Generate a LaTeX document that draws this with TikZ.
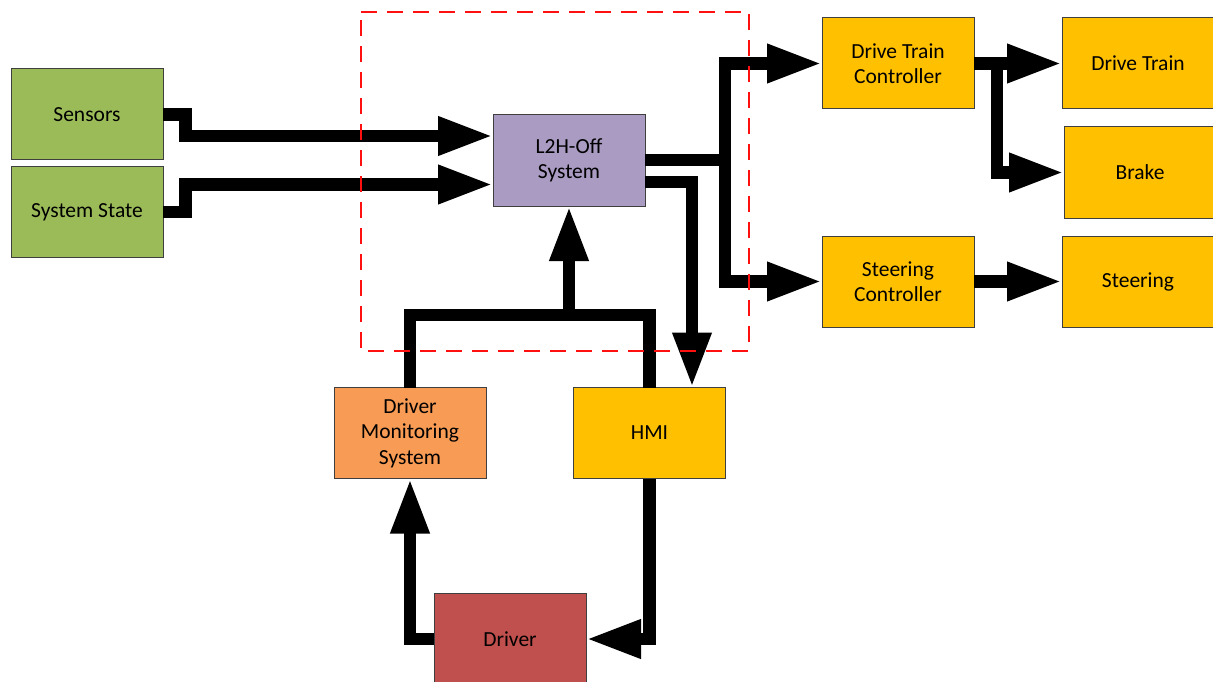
\documentclass[tikz,border=0pt]{standalone}
\usepackage{fontspec}
\setmainfont{Carlito}
\usetikzlibrary{arrows.meta}

\definecolor{boxgreen}{HTML}{9BBB59}
\definecolor{boxpurple}{HTML}{A99BC2}
\definecolor{boxorange}{HTML}{F79B55}
\definecolor{boxyellow}{HTML}{FFC000}
\definecolor{boxred}{HTML}{C0504D}
\definecolor{boxedge}{HTML}{3F3F3F}
\definecolor{zonered}{HTML}{FF1010}

\tikzset{
  block/.style={draw=boxedge, line width=1pt, rectangle, minimum width=152pt,
    minimum height=91pt, inner sep=0pt, outer sep=0pt, align=center,
    font=\fontsize{21.5}{25.5}\selectfont},
  flow/.style={line width=12.5pt, line join=miter, line cap=butt},
  flowarrow/.style={flow, -{Triangle[length=55pt,width=36pt]}},
  zone/.style={draw=zonered, line width=2.3pt, dash pattern=on 16pt off 10pt}
}

\begin{document}
\begin{tikzpicture}[x=1pt, y=-1pt]
  \useasboundingbox (0,0) rectangle (1213,682);

  % blocks
  \node[block, fill=boxgreen]  (sens)  at (87,114.5)   {Sensors};
  \node[block, fill=boxgreen]  (sst)   at (87,212)     {System State};
  \node[block, fill=boxpurple] (l2h)   at (569,160.5)  {L2H-Off\\System};
  \node[block, fill=boxyellow] (dtc)   at (898,63.5)   {Drive Train\\Controller};
  \node[block, fill=boxyellow] (dt)    at (1138,63.5)  {Drive Train};
  \node[block, fill=boxyellow] (brake) at (1140,172.5) {Brake};
  \node[block, fill=boxyellow] (sc)    at (898,281.5)  {Steering\\Controller};
  \node[block, fill=boxyellow] (steer) at (1138,281.5) {Steering};
  \node[block, fill=boxorange] (dms)   at (410,433)    {Driver\\Monitoring\\System};
  \node[block, fill=boxyellow] (hmi)   at (649.5,433)  {HMI};
  \node[block, fill=boxred, minimum height=92pt] (drv) at (510,639) {Driver};

  % inputs to the L2H-Off system
  \draw[flowarrow] (sens.east) -| (185.5,136) -- (l2h.west |- 0,136);
  \draw[flowarrow] (sst.east) -| (185.5,184.5) -- (l2h.west |- 0,184.5);

  % L2H-Off outputs to the controllers
  \draw[flowarrow] (l2h.east |- 0,160) -| (725,63.5) -- (dtc.west);
  \draw[flowarrow] (l2h.east |- 0,160) -| (725,281.5) -- (sc.west);

  % L2H-Off output to the HMI
  \draw[flowarrow] (l2h.east |- 0,182) -| (692,0 |- hmi.north);

  % controllers to actuators
  \draw[flowarrow] (dtc.east) -- (dt.west);
  \draw[flowarrow] (dtc.east) -| (997,172.5) -- (brake.west);
  \draw[flowarrow] (sc.east) -- (steer.west);

  % driver monitoring and HMI feedback to the L2H-Off system
  \draw[flow] (dms.north) |- (649.5,315) -- (hmi.north);
  \draw[flowarrow] (569,315) -- (l2h.south);

  % loop through the driver
  \draw[flowarrow] (hmi.south) |- (drv.east);
  \draw[flowarrow] (drv.west) -| (dms.south);

  % system boundary
  \draw[zone] (361,12) -- (749,12) -- (749,351) -- (361,351) -- cycle;
\end{tikzpicture}
\end{document}
